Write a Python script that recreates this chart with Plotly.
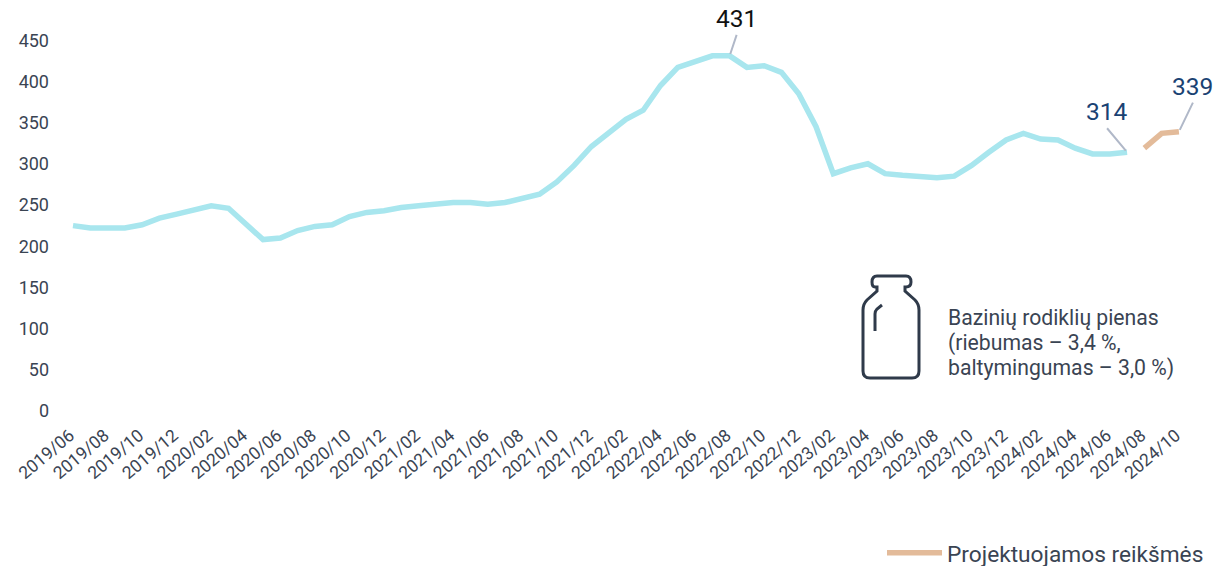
import plotly.graph_objects as go

W, H = 1221, 590  # the page is cropped to the 566 px window; the extra height leaves room for the legend box
tick_labels = ["2019/06","2019/08","2019/10","2019/12","2020/02","2020/04","2020/06","2020/08","2020/10","2020/12",
               "2021/02","2021/04","2021/06","2021/08","2021/10","2021/12","2022/02","2022/04","2022/06","2022/08",
               "2022/10","2022/12","2023/02","2023/04","2023/06","2023/08","2023/10","2023/12","2024/02","2024/04",
               "2024/06","2024/08","2024/10"]
milk_values = [225,222,222,222,226,234,239,244,249,246,228,208,210,219,224,226,236,241,243,247,249,251,253,253,
               251,253,258,263,278,298,321,337,354,365,395,417,424,431,431,417,419,411,385,345,288,295,300,288,286,
               285,283,285,298,314,329,337,330,329,319,312,312,314]
projected_values = [319, 337, 339]
projected_start = 62
y_ticks = [0,50,100,150,200,250,300,350,400,450]
note_lines = ["Bazinių rodiklių pienas", "(riebumas – 3,4 %,", "baltymingumas – 3,0 %)"]

LEFT, RIGHT, TOP, BOTTOM = 60, 1205, 30, 411
X0, DX = 73, 17.28
def px(x): return x / W
def py(y): return 1 - y / H

milk_x = list(range(len(milk_values)))
proj_x = list(range(projected_start, projected_start + len(projected_values)))

fig = go.Figure()
fig.add_trace(go.Scatter(x=milk_x, y=milk_values, mode="lines", showlegend=False, hoverinfo="skip",
                         line=dict(color="#a8e6ee", width=5.5)))
fig.add_trace(go.Scatter(x=proj_x, y=projected_values, mode="lines", name="Projektuojamos reikšmės", hoverinfo="skip",
                         line=dict(color="#e3bb9a", width=5.5)))

def P(x, y): return f"{px(x):.5f},{py(y):.5f}"
bottle = (f"M{P(877,287)} L{P(875,287)} Q{P(872,287)} {P(872,282)} Q{P(872,276)} {P(877,276)} L{P(906,276)} "
          f"Q{P(911,276)} {P(911,282)} Q{P(911,287)} {P(906,287)} L{P(905,287)} L{P(905,291)} L{P(915,300)} "
          f"Q{P(919,304)} {P(919,310)} L{P(919,371)} Q{P(919,378)} {P(912,378)} L{P(870,378)} Q{P(863,378)} {P(863,371)} "
          f"L{P(863,310)} Q{P(863,304)} {P(867,300)} L{P(877,291)} Z")
highlight = f"M{P(882,305)} L{P(877,309)} Q{P(875,311)} {P(875,314)} L{P(875,331)}"
shapes = [dict(type="path", xref="paper", yref="paper", path=p, line=dict(color="#2f3a4a", width=3), fillcolor="rgba(0,0,0,0)")
          for p in (bottle, highlight)]

callouts = [
    (38, 431, "431", 7, -21, "#111111"),
    (61, 314, "314", -20, -24, "#1a4273"),
    (64, 339, "339", 14, -29, "#1a4273"),
]
annotations = []
for x, y, text, ax, ay, col in callouts:
    annotations.append(dict(x=x, y=y, xref="x", yref="y", text=text, showarrow=True, arrowhead=0, arrowwidth=2,
                            arrowcolor="#b0b8c8", ax=ax, ay=ay, standoff=2, startstandoff=0, yanchor="bottom",
                            font=dict(family="Roboto", size=24.5, color=col)))
for line, ypos in zip(note_lines, (317, 342.5, 368)):
    annotations.append(dict(xref="paper", yref="paper", x=px(946), y=py(ypos), xanchor="left", yanchor="middle", align="left",
                            showarrow=False, text=line, font=dict(family="Roboto", size=21.2, color="#3a4453")))

fig.update_layout(
    width=W, height=H, autosize=False, paper_bgcolor="white", plot_bgcolor="white",
    margin=dict(l=0, r=0, t=0, b=0, autoexpand=False),
    font=dict(family="Roboto", color="#3a4453"),
    shapes=shapes, annotations=annotations,
    xaxis=dict(domain=[LEFT/W, RIGHT/W], range=[(LEFT-X0)/DX, (RIGHT-X0)/DX], tickmode="array", automargin=False,
               tickvals=list(range(0, 2*len(tick_labels), 2)), ticktext=tick_labels, tickangle=-40, ticklabelstandoff=10,
               ticklabelshift=-3,
               showgrid=False, zeroline=False, showline=False, ticks="", tickfont=dict(size=17.5, family="Roboto", color="#3a4453")),
    yaxis=dict(domain=[1-BOTTOM/H, 1-TOP/H], range=[0, (BOTTOM-TOP)/0.824], tickvals=y_ticks, automargin=False, ticklabelstandoff=10,
               showgrid=False, zeroline=False, showline=False, ticks="", tickfont=dict(size=18, family="Roboto", color="#3a4453")),
    showlegend=True,
    legend=dict(x=px(882), xanchor="left", y=py(553), yanchor="middle", itemwidth=55, bgcolor="rgba(0,0,0,0)",
                font=dict(family="Roboto", size=22.7, color="#3a4453")),
)
fig.write_html("out.html", config={"displayModeBar": False},
               post_script="document.body.style.margin='0';document.documentElement.style.overflow='hidden';document.body.style.overflow='hidden';")
